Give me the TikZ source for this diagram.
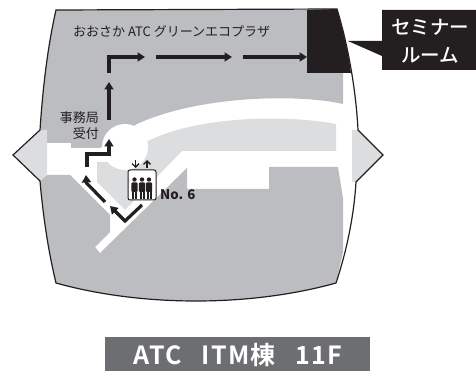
\documentclass[tikz,border=0pt]{standalone}
\usepackage{fontspec}
\setmainfont{Noto Sans CJK JP}
\newfontfamily\medfont{Noto Sans CJK JP Medium}
\newfontfamily\widefont[LetterSpace=5]{Noto Sans CJK JP Bold}
\usetikzlibrary{arrows.meta}
\definecolor{gA}{HTML}{BCBDC0}
\definecolor{gB}{HTML}{DCDDDE}
\definecolor{gC}{HTML}{6D6E71}
\definecolor{ink}{HTML}{231F20}
\tikzset{
  route/.style={draw=ink,line width=3.2pt,line join=miter,-{Triangle[length=7.5pt,width=9pt]}},
  mapline/.style={draw=ink,line width=1.2pt,line join=miter},
  maplabel/.style={text=ink,inner sep=0pt,font=\fontsize{13}{15}\selectfont},
  person/.style={fill=ink,draw=none},
  liftarrow/.style={draw=ink,line width=1.3pt,-{Straight Barb[length=3.5pt,width=7pt]}}
}
\begin{document}
\begin{tikzpicture}[x=1pt,y=-1pt]
\useasboundingbox (0,0) rectangle (476,371);
% dark gray upper floor
\fill[gA] (40,130) .. controls (43,85) and (48,45) .. (56,10) -- (307,10) -- (307,73) -- (343,73) -- (343,104)
  .. controls (300,94) and (200,95) .. (137,124) -- (100,148) -- (71,148) -- (71,143) -- (47,143) -- (47,130) -- cycle;
% lower floor
\fill[gA] (40,181) -- (47,175) -- (70,175) -- (110,215) -- (110,232) -- (95,247) -- (100,253) -- (187,168) -- (187,189)
  -- (269,189) -- (269,167) -- (338,167) -- (343,198) -- (343,252) -- (336,283)
  .. controls (250,307) and (142,307) .. (56,283) .. controls (48,250) and (43,215) .. (40,181) -- cycle;
% light gray hall
\fill[gB] (148,141) .. controls (200,115) and (290,115) .. (336,124) -- (336,151) -- (182,151) -- (125,210) -- (97,182) -- (97,162) -- (110,162) -- cycle;
\fill[white] (125,147) circle (23);
% light gray ends
\fill[gB] (13,155) -- (40,130) -- (47,130) -- (47,175) -- (40,181) -- cycle;
\fill[gB] (352,130) -- (358,130) -- (383,155) -- (356,182) -- (352,182) -- cycle;
% seminar room
\fill[ink] (307,10) -- (337,9) .. controls (342,28) and (348,50) .. (351,73) -- (307,73) -- cycle;
% outline
\draw[mapline] (56,10) -- (337,9) .. controls (348,45) and (356,90) .. (358,130) -- (383,155) -- (356,182)
  .. controls (354,215) and (347,250) .. (336,283) .. controls (250,307) and (142,307) .. (56,283)
  .. controls (48,250) and (43,215) .. (40,181) -- (13,155) -- (40,130) .. controls (43,85) and (48,45) .. (56,10) -- cycle;
% callout
\fill[ink] (382,10) -- (476,10) -- (476,70) -- (382,70) -- (382,56) -- (348,41) -- (382,41) -- cycle;
\node[text=white,inner sep=0pt,font=\fontsize{19.5}{21}\medfont] (semA) at (430,27) {セミナー};
\node[text=white,inner sep=0pt,font=\fontsize{19.5}{21}\medfont] (semB) at (430,55) {ルーム};
% labels
\node[maplabel,anchor=west] (plaza) at (73,31) {おおさか ATC グリーンエコプラザ};
\node[maplabel,anchor=east] (jimu) at (99,118) {事務局};
\node[maplabel,anchor=east] (uke) at (99,134) {受付};
% route points
\coordinate (a1) at (87,167); \coordinate (a2) at (87,154); \coordinate (a3) at (109,154); \coordinate (a4) at (109,139);
\coordinate (b1) at (109,120); \coordinate (b2) at (109,82);
\coordinate (c1) at (109,73); \coordinate (c2) at (109,57); \coordinate (c3) at (145,57);
\coordinate (d1) at (156,57); \coordinate (d2) at (232,57);
\coordinate (e1) at (243,57); \coordinate (e2) at (307,57);
\coordinate (f1) at (105,202); \coordinate (f0) at (86.5,183); \coordinate (f2) at (86,175);
\coordinate (g1) at (142,205); \coordinate (g2) at (125,221); \coordinate (g3) at (110,206);
\draw[route] (a1) -- (a2) -- (a3) -- (a4);
\draw[route] (b1) -- (b2);
\draw[route] (c1) -- (c2) -- (c3);
\draw[route] (d1) -- (d2);
\draw[route] (e1) -- (e2);
\draw[route] (f1) -- (f0) -- (f2);
\draw[route] (g1) -- (g2) -- (g3);
% lift
\draw[draw=ink,fill=white,line width=1pt,rounded corners=2pt] (128,170) rectangle (156,200);
\foreach \px in {134.5,142,149}{
  \fill[person] (\px,179.5) circle (2.2);
  \fill[person,rounded corners=1pt] (\px-3.2,182.5) rectangle (\px+3.2,192);
  \fill[person] (\px-2.5,191) rectangle (\px-0.5,199);
  \fill[person] (\px+0.5,191) rectangle (\px+2.5,199);
}
\coordinate (u1) at (135.5,160); \coordinate (u2) at (135.5,168);
\coordinate (v1) at (147,168); \coordinate (v2) at (147,160);
\draw[liftarrow] (u1) -- (u2);
\draw[liftarrow] (v1) -- (v2);
\node[text=ink,anchor=west,inner sep=0pt,font=\fontsize{13.3}{15}\selectfont\bfseries] (no) at (160,195) {No. 6};
% title
\fill[gC] (105,337) rectangle (370,371);
\node[text=white,inner sep=0pt,font=\fontsize{25}{27}\widefont] (title) at (238,355) {ATC\hspace{0.8em}ITM棟\hspace{0.8em}11F};
\end{tikzpicture}
\end{document}
